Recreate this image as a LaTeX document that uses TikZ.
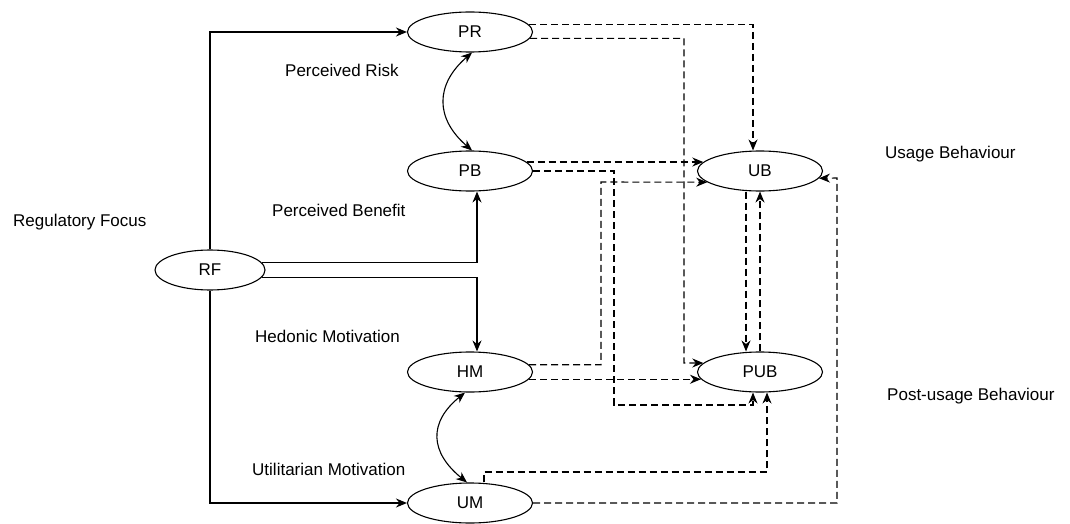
\documentclass[tikz,border=0pt]{standalone}
\usepackage{fontspec}
\setmainfont{Liberation Sans}
\usetikzlibrary{shapes.geometric,arrows.meta,calc}
\begin{document}
\begin{tikzpicture}[x=1pt,y=-1pt,
  construct/.style={ellipse,draw,line width=1.1pt,minimum width=125pt,minimum height=40pt,inner sep=0pt,font=\fontsize{17}{20}\selectfont},
  caption/.style={anchor=base west,inner sep=0pt,font=\fontsize{17}{20}\selectfont},
  tip/.style={-{Stealth[length=11pt,width=9pt]}},
  link/.style={line width=1.1pt,tip},
  effect/.style={link,dash pattern=on 7pt off 4pt},
  assoc/.style={line width=1.1pt,{Stealth[length=11pt,width=9pt]}-{Stealth[length=11pt,width=9pt]}}]

% canvas
\fill[white] (0,0) rectangle (1070,524);
\useasboundingbox (0,0) rectangle (1070,524);

% constructs
\node[construct,minimum width=110pt] (RF) at (210,270) {RF};
\node[construct] (PR)  at (470,32)  {PR};
\node[construct] (PB)  at (470,171) {PB};
\node[construct] (HM)  at (470,372) {HM};
\node[construct] (UM)  at (470,503) {UM};
\node[construct] (UB)  at (760,171) {UB};
\node[construct] (PUB) at (760,372) {PUB};

% captions
\node[caption] (capRF)  at (13,226)  {Regulatory Focus};
\node[caption] (capPR)  at (285,77)  {Perceived Risk};
\node[caption] (capPB)  at (272,216) {Perceived Benefit};
\node[caption] (capHM)  at (255,342) {Hedonic Motivation};
\node[caption] (capUM)  at (252,475) {Utilitarian Motivation};
\node[caption] (capUB)  at (885,158) {Usage Behaviour};
\node[caption] (capPUB) at (887,400) {Post-usage Behaviour};

% routing points of the dashed paths
\coordinate (r2) at (684,363);
\coordinate (r4) at (614,405);
\coordinate (r5) at (601,182);
\coordinate (r7) at (767,472);
\coordinate (r8) at (837,178);

% regulatory focus to the antecedents
\draw[link] (RF.north) |- (PR.west);
\draw[link] (RF.south) |- (UM.west);
\draw[link] (RF.8) -| ($(PB.south)+(7,0)$);
\draw[link] (RF.-8) -| ($(HM.north)+(7,0)$);

% correlations
\draw[assoc] ($(PB.north)+(2,0)$) .. controls +(-37,-32) and +(-37,32) .. ($(PR.south)+(2,0)$);
\draw[assoc] ($(HM.south)+(-5,0)$) .. controls +(-37,30) and +(-37,-30) .. ($(UM.north)+(-3,0)$);

% effects on behaviour
\draw[effect] (PR.7) -| ($(UB.north)+(-7,0)$);
\draw[effect] (PR.-6) -| (r2) -- (PUB.171);
\draw[effect] (PB.9) -- (UB.171);
\draw[effect] (PB.east) -| (r4) -| ($(PUB.south)+(-7,0)$);
\draw[effect] (HM.7) -| (r5) -- (UB.192);
\draw[effect] (HM.-7) -- (PUB.187);
\draw[effect] ($(UM.north)+(14,0)$) |- (r7) -- ($(PUB.south)+(7,0)$);
\draw[effect] (UM.east) -| (r8) -- (UB.-7);
\draw[effect] ($(UB.south)+(-14,0)$) -- ($(PUB.north)+(-14,0)$);
\draw[effect] (PUB.north) -- (UB.south);
\end{tikzpicture}
\end{document}
